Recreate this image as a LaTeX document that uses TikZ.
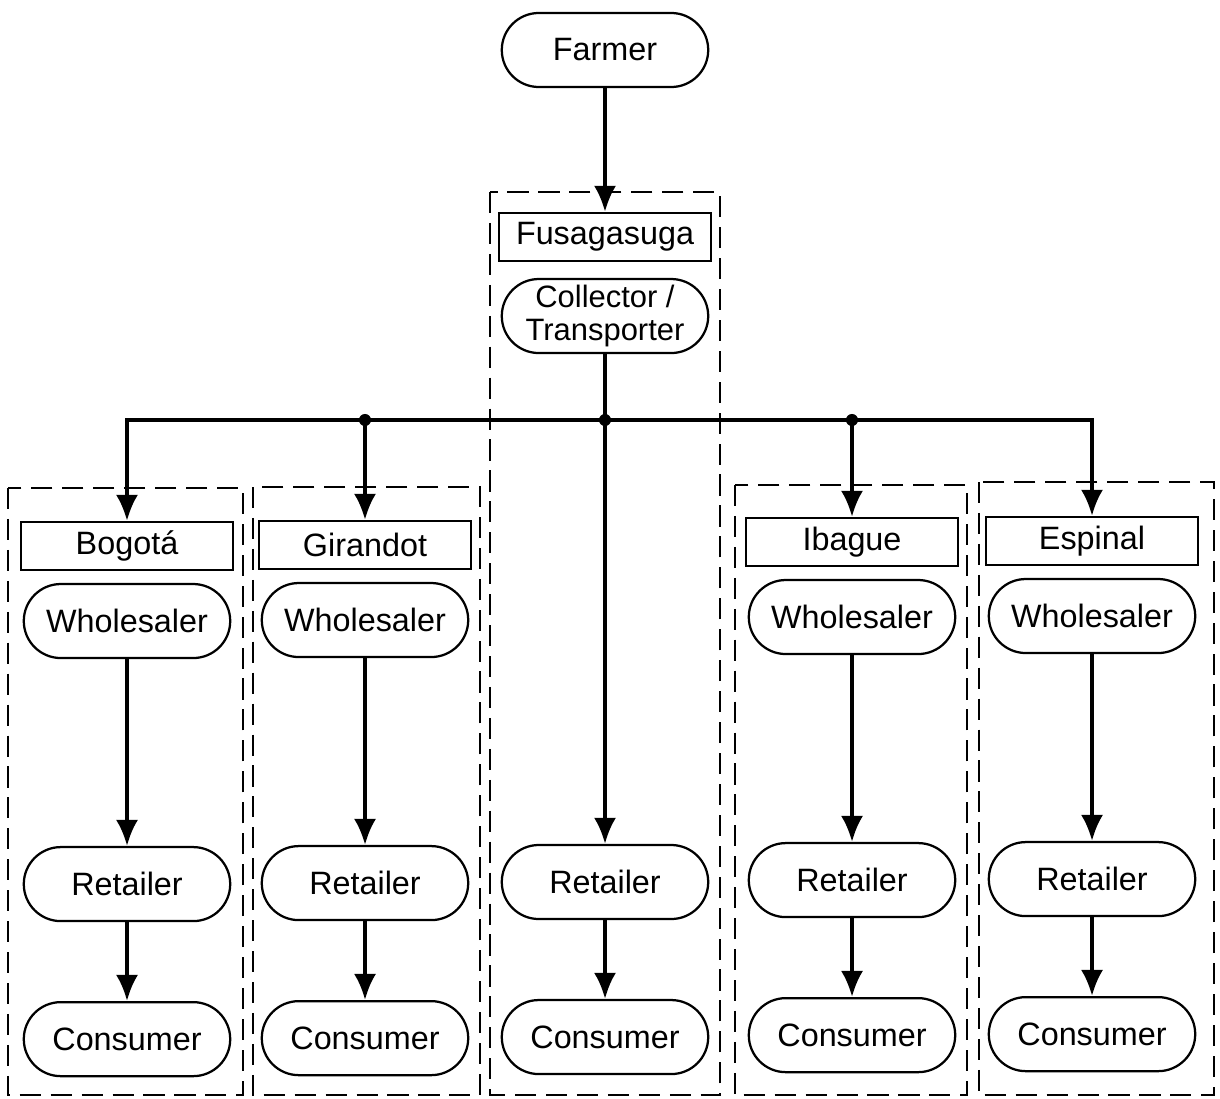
\documentclass[tikz,border=0pt]{standalone}
\usepackage{fontspec}
\setmainfont{Liberation Sans}
\usepackage{tikz}
\usetikzlibrary{arrows.meta}
\usetikzlibrary{positioning}
\usetikzlibrary{shapes.misc}

\begin{document}
\begin{tikzpicture}[x=0.025cm,y=-0.025cm,node distance=18.75mm,on grid,>={Latex[length=6.5mm,width=5.5mm]},
		actor/.style={rounded rectangle,draw=black,line width=1.6pt,minimum width=53mm,minimum height=18.5mm,inner sep=2pt,font=\fontsize{23}{27}\selectfont},
		place/.style={rectangle,draw=black,line width=1.6pt,minimum width=53mm,minimum height=12mm,inner sep=2pt,font=\fontsize{23}{27}\selectfont},
		region/.style={draw=black,line width=1.9pt,dash pattern=on 15pt off 7pt},
		flow/.style={->,line width=2.6pt}]
		\useasboundingbox (0,0) rectangle (1220,1098);
		
		\node[actor]  (farmer)     at (605,50)              {Farmer};
		\node[place]  (fusa)       at (605,237)             {Fusagasuga};
		\node[actor,align=center,font=\fontsize{22}{23}\selectfont]  (collector)  [below=of fusa, yshift=-1mm] {Collector /\\Transporter};
		
		\node[place]  (bogota)     at (127,546)             {Bogot\'a};
		\node[place]  (girandot)   at (365,545)             {Girandot};
		\node[place]  (ibague)     at (852,542)             {Ibague};
		\node[place]  (espinal)    at (1092,541)            {Espinal};
		
		\node[actor]  (wholeB)     [below=of bogota]        {Wholesaler};
		\node[actor]  (wholeG)     [below=of girandot]      {Wholesaler};
		\node[actor]  (wholeI)     [below=of ibague]        {Wholesaler};
		\node[actor]  (wholeE)     [below=of espinal]       {Wholesaler};
		
		\node[actor]  (retailB)    [below=65.75mm of wholeB] {Retailer};
		\node[actor]  (retailG)    [below=65.75mm of wholeG] {Retailer};
		\node[actor]  (retailF)    at (605,882)             {Retailer};
		\node[actor]  (retailI)    [below=65.75mm of wholeI] {Retailer};
		\node[actor]  (retailE)    [below=65.75mm of wholeE] {Retailer};
		
		\node[actor]  (consB)      [below=38.75mm of retailB] {Consumer};
		\node[actor]  (consG)      [below=38.75mm of retailG] {Consumer};
		\node[actor]  (consF)      [below=38.75mm of retailF] {Consumer};
		\node[actor]  (consI)      [below=38.75mm of retailI] {Consumer};
		\node[actor]  (consE)      [below=38.75mm of retailE] {Consumer};
		
		% market frames
		\draw[region] (8,488) rectangle (243,1095);
		\draw[region] (253,487) rectangle (480,1095);
		\draw[region] (490,192) rectangle (720,1095);
		\draw[region] (735,485) rectangle (967,1095);
		\draw[region] (979,482) rectangle (1214,1095);
		
		\coordinate (hub)  at (collector.south |- 0,420);
		\coordinate (hubG) at (girandot.north |- hub);
		\coordinate (hubI) at (ibague.north |- hub);
		
		\draw[flow] (farmer) -- (fusa);
		\draw[flow] (collector) -- (retailF);
		\draw[flow] (hub) -| (bogota.north);
		\draw[flow] (hub) -| (espinal.north);
		\draw[flow] (hubG) -- (girandot);
		\draw[flow] (hubI) -- (ibague);
		\fill (hub) circle (4.3pt);
		\fill (hubG) circle (4.3pt);
		\fill (hubI) circle (4.3pt);
		
		\foreach \m in {B,G,I,E}
		{
			\draw[flow] (whole\m) -- (retail\m);
		}
		\foreach \m in {B,G,F,I,E}
		{
			\draw[flow] (retail\m) -- (cons\m);
		}
		\end{tikzpicture}
\end{document}
